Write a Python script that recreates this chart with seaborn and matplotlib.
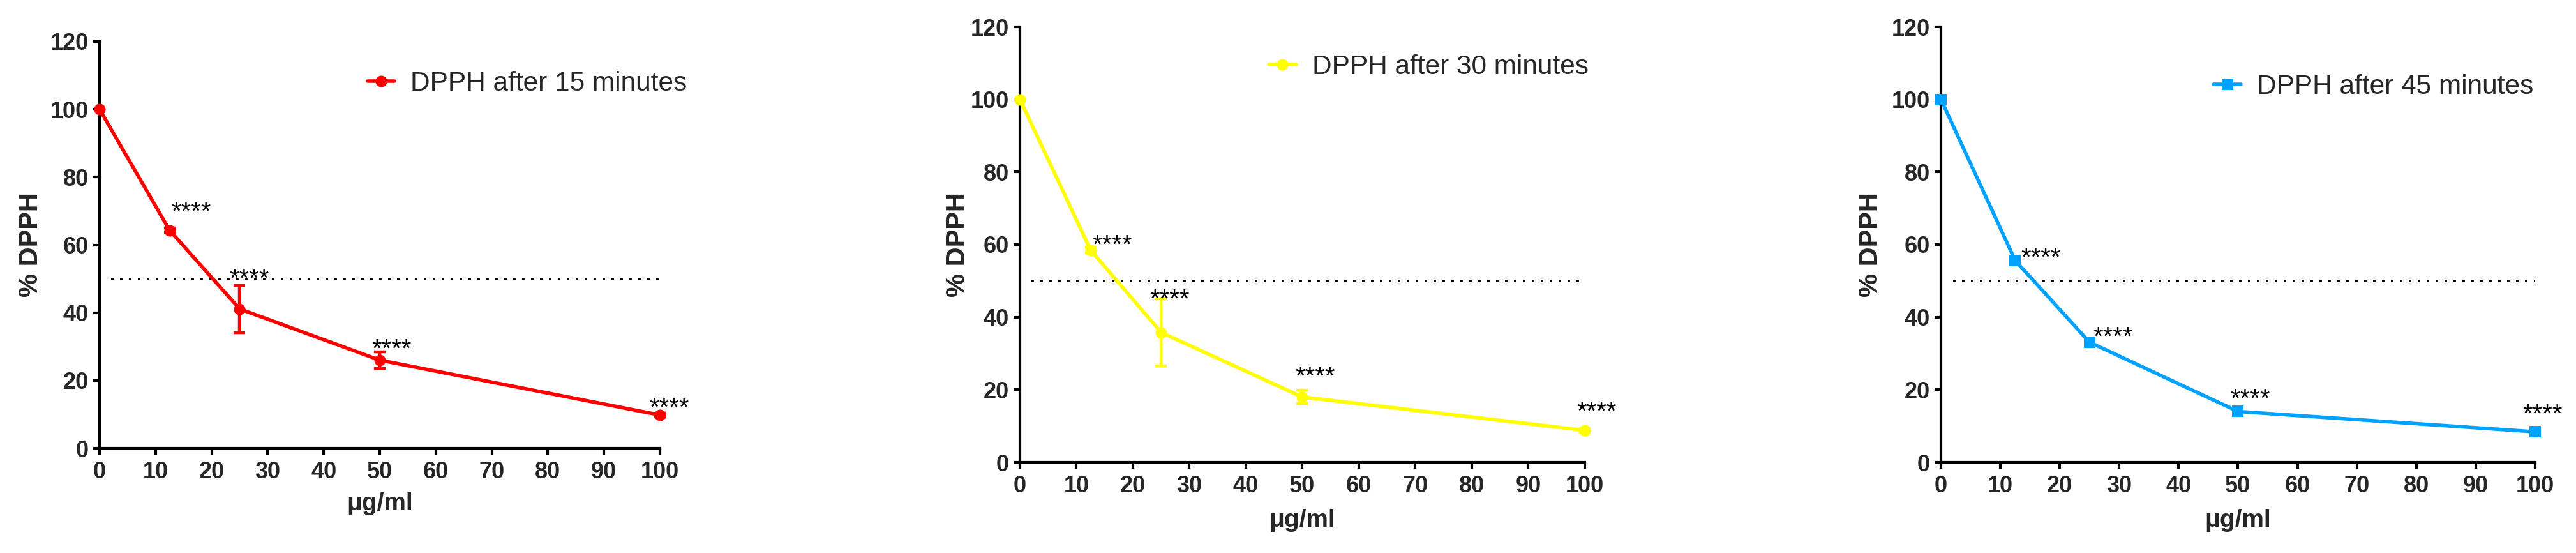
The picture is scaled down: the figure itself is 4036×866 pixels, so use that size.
import matplotlib
matplotlib.use('Agg')
import matplotlib.pyplot as plt
import seaborn as sns

# concentrations (ug/ml)
conc = [0, 12.5, 25, 50, 100]

# % DPPH remaining, mean and error
dpph_15 = [100, 64.3, 41.1, 26.0, 9.8]
err_15 = [0, 0.6, 7.0, 2.4, 0.5]
dpph_30 = [100, 58.5, 35.8, 18.0, 8.8]
err_30 = [0, 0.8, 9.2, 1.9, 0.6]
dpph_45 = [100, 55.6, 33.1, 14.0, 8.4]
err_45 = [0, 0.8, 0.9, 0.9, 0.6]

labels = ['DPPH after 15 minutes', 'DPPH after 30 minutes', 'DPPH after 45 minutes']
sig = '****'

# where the significance stars sit (left edge, baseline) in data units
star_x_15 = [12.8, 23.2, 48.6, 98.1]
star_y_15 = [67.5, 47.7, 27.0, 9.7]
star_x_30 = [12.8, 23.0, 48.7, 98.6]
star_y_30 = [57.7, 42.9, 21.5, 11.9]
star_x_45 = [13.5, 25.6, 48.7, 97.9]
star_y_45 = [54.2, 32.4, 15.3, 11.1]

sns.set_style('ticks')
plt.rcParams['font.family'] = ['Liberation Sans', 'DejaVu Sans']

W, H = 4037, 866
fig = plt.figure(figsize=(W / 100, H / 100), dpi=100)


def rect(left, top, right, bottom):
    return [left / W, (H - bottom) / H, (right - left) / W, (bottom - top) / H]


panels = [
    dict(pos=rect(156, 65, 1034, 702), y=dpph_15, e=err_15, color='#FF0000', marker='o', ms=13,
         sx=star_x_15, sy=star_y_15, leg=(0.478, 0.896), ylpad=8, xlpad=10),
    dict(pos=rect(1598, 42, 2483, 724), y=dpph_30, e=err_30, color='#FFFF00', marker='o', ms=13,
         sx=star_x_30, sy=star_y_30, leg=(0.441, 0.908), ylpad=0, xlpad=13),
    dict(pos=rect(3041, 42, 3972, 724), y=dpph_45, e=err_45, color='#00A2FF', marker='s', ms=13,
         sx=star_x_45, sy=star_y_45, leg=(0.459, 0.862), ylpad=9, xlpad=13),
]

for p, lab in zip(panels, labels):
    ax = fig.add_axes(p['pos'])
    ax.errorbar(conc, p['y'], yerr=p['e'], fmt='none', ecolor=p['color'],
                elinewidth=3.2, capsize=6.5, capthick=3.2, zorder=3, clip_on=False)
    sns.lineplot(x=conc, y=p['y'], ax=ax, color=p['color'], marker=p['marker'],
                 markersize=p['ms'], markeredgewidth=0, linewidth=4,
                 label=lab, zorder=4, clip_on=False)
    ax.hlines(50, 2, 100, colors='black', linewidth=2.8,
              linestyles=(0, (1, 2.6)), zorder=2)
    for x, y in zip(p['sx'], p['sy']):
        ax.text(x, y, sig, fontsize=29, ha='left', va='baseline', color='black')

    ax.set_xlim(0, 100)
    ax.set_ylim(0, 120)
    ax.set_xticks(range(0, 101, 10))
    ax.set_yticks(range(0, 121, 20))
    for s in ['top', 'right']:
        ax.spines[s].set_visible(False)
    for s in ['left', 'bottom']:
        ax.spines[s].set_linewidth(3)
        ax.spines[s].set_color('black')
    ax.tick_params(axis='both', length=7.2, width=3, color='black', labelsize=26)
    ax.tick_params(axis='x', pad=7)
    ax.tick_params(axis='y', pad=5)
    for t in ax.get_xticklabels() + ax.get_yticklabels():
        t.set_fontweight('bold')
    ax.set_xlabel('\u03bcg/ml', fontsize=28, fontweight='bold', labelpad=p['xlpad'])
    ax.set_ylabel('% DPPH', fontsize=30, fontweight='bold', labelpad=p['ylpad'])
    ax.legend(loc='center left', bbox_to_anchor=p['leg'], frameon=False,
              fontsize=30.5, handlelength=1.0, handletextpad=0.6,
              borderpad=0, borderaxespad=0)

plt.savefig('out.png', dpi=100)
